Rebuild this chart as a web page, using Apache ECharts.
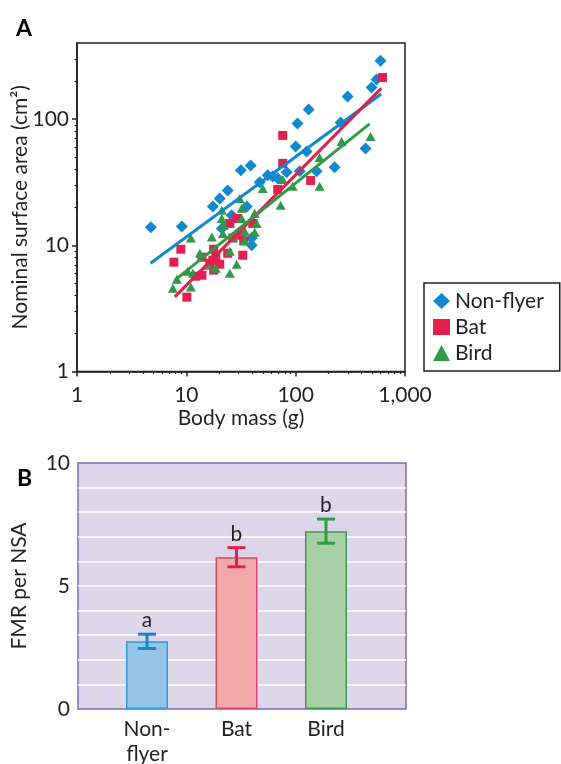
<!DOCTYPE html>
<html>
<head>
<meta charset="utf-8">
<script src="https://cdn.jsdelivr.net/npm/echarts@6/dist/echarts.min.js"></script>
<style>
html, body { margin: 0; padding: 0; background: #fff; }
#chart { width: 561px; height: 764px; }
</style>
</head>
<body>
<div id="chart"></div>
<script>
// Panel A: body mass (g) vs nominal surface area (cm2)
const nonFlyer = [
    [4.74, 13.9], [9.1, 14.1], [17.5, 20.3], [20.2, 23.5], [23.9, 27.2], [31.5, 39.2],
    [38.8, 42.9], [46.9, 31.5], [55.5, 35.8], [61.7, 35.1], [68.5, 33.9], [82.8, 37.8],
    [108.8, 38.5], [155.5, 38.5], [227, 41.4], [100, 60.6], [126, 55.3], [104, 92.1],
    [131.5, 118.9], [257.7, 93.8], [298.5, 150.6], [435.6, 58.5], [494.5, 177.4],
    [549.5, 205.2], [597, 290], [35.7, 20.3], [26, 17.3], [21.1, 13.6], [39.6, 11.4], [39.6, 10]
];
const bat = [
    [7.69, 7.34], [8.91, 9.3], [10.1, 3.88], [12.2, 5.69], [13.9, 8.04], [13.9, 5.79],
    [16.4, 7.2], [17.8, 9.3], [17.8, 6.35], [18.6, 8.04], [20.2, 7.08], [23.9, 8.64],
    [32.8, 8.34], [25, 14.9], [28.9, 16.3], [32.1, 12.0], [26.6, 11.4], [40.5, 14.9],
    [33.5, 10.8], [68.5, 27.7], [76.1, 44.5], [76.1, 74.1], [137, 32.6], [623, 213], [17.5, 7.61]
];
const bird = [
    [7.53, 4.57], [8.19, 5.39], [11.0, 11.4], [11.0, 4.66], [10.3, 6.23], [11.5, 6.01],
    [15.7, 6.95], [18.6, 6.58], [25, 6.01], [28.9, 7.08], [25, 8.97], [17.1, 11.6],
    [21.1, 18.9], [21.1, 16.3], [22, 14.4], [21.6, 12.4], [30.8, 23.5], [32.1, 19.6],
    [32.1, 16.3], [26.6, 11.6], [34.2, 10.9], [42.2, 17.9], [44, 14.9], [42.2, 12.7],
    [50, 28.2], [76.1, 33.2], [72.9, 20.7], [93.9, 29.3], [165.6, 49.6], [165.6, 29.3],
    [263, 66.4], [484, 72.7], [34.2, 12.9], [13.3, 8.64]
];
// regression lines (end points)
const nonFlyerFit = [[4.7, 7.2], [606, 158]];
const batFit = [[7.85, 3.9], [606, 175]];
const birdFit = [[7.85, 5.3], [474, 91.6]];

const massTicks = [1, 10, 100, 1000];
const massMinorTicks = [2, 3, 4, 5, 6, 7, 8, 9, 20, 30, 40, 50, 60, 70, 80, 90, 200, 300, 400, 500, 600, 700, 800, 900];
const areaTicks = [1, 10, 100];
const areaMinorTicks = [2, 3, 4, 5, 6, 7, 8, 9, 20, 30, 40, 50, 60, 70, 80, 90, 200, 300];

// Panel B: FMR per NSA
const groups = ['Non-\nflyer', 'Bat', 'Bird'];
const fmrMean = [2.75, 6.17, 7.23];
const fmrErr = [0.29, 0.39, 0.49];
const sigLetters = ['a', 'b', 'b'];
const fmrTicks = [0, 5, 10];

const FONT = 'Lato';
const INK = '#231f20';
const BLUE = '#1089cd', RED = '#e2204f', GREEN = '#2f9a48';
const barFill = ['#94c4e7', '#f2a8a8', '#a9cfa7'];
const barEdge = ['#2e9bd6', '#e0436a', '#3b9a55'];
const errCol = [BLUE, RED, GREEN];

function fmtThousands(v) {
    return String(Math.round(v)).replace(/\B(?=(\d{3})+(?!\d))/g, ',');
}

var chartDom = document.getElementById('chart');
var myChart = echarts.init(chartDom, null, { renderer: 'canvas' });

var axisText = { fontFamily: FONT, fontSize: 21, color: INK };

var option = {
    animation: false,
    textStyle: { fontFamily: FONT },
    title: [
        { text: 'A', left: 11, top: 12, textStyle: { fontFamily: FONT, fontSize: 23, fontWeight: 'bold', color: '#000' } },
        { text: 'B', left: 12, top: 462, textStyle: { fontFamily: FONT, fontSize: 23, fontWeight: 'bold', color: '#000' } }
    ],
    legend: {
        data: ['Non-flyer', 'Bat', 'Bird'],
        orient: 'vertical',
        left: 424, top: 283,
        padding: [7, 16, 7, 9],
        itemGap: 4,
        itemWidth: 17, itemHeight: 16,
        borderColor: INK, borderWidth: 1.5,
        selectedMode: false,
        textStyle: { fontFamily: FONT, fontSize: 21, lineHeight: 22, color: INK }
    },
    grid: [
        { left: 77, top: 43, width: 328, height: 328.5, outerBoundsMode: 'none', containLabel: false, show: true, borderColor: INK, borderWidth: 1.5, backgroundColor: 'transparent' },
        { left: 78, top: 463, width: 328, height: 246, outerBoundsMode: 'none', containLabel: false, show: true, borderColor: '#7d6bb0', borderWidth: 1.5, backgroundColor: '#ddd6e8' }
    ],
    xAxis: [
        {
            type: 'log', gridIndex: 0, position: 'bottom', min: 1, max: 1000,
            name: 'Body mass (g)', nameLocation: 'middle', nameGap: 36, nameMoveOverlap: false, nameTextStyle: axisText,
            axisLine: { lineStyle: { color: INK, width: 1.5 } },
            axisTick: { customValues: massTicks, length: 5, lineStyle: { color: INK, width: 1.5 } },
            axisLabel: Object.assign({ customValues: massTicks, margin: 13, formatter: fmtThousands }, axisText),
            splitLine: { show: false }
        },
        {
            type: 'log', gridIndex: 0, position: 'bottom', min: 1, max: 1000,
            axisLine: { show: false },
            axisTick: { customValues: massMinorTicks, length: 2.5, lineStyle: { color: INK, width: 1.2 } },
            axisLabel: { show: false },
            splitLine: { show: false }
        },
        {
            type: 'value', gridIndex: 1, position: 'bottom', min: -0.771, max: 2.894,
            axisLine: { show: false },
            axisTick: { show: false },
            axisLabel: Object.assign({ customValues: [0, 1, 2], margin: 8, lineHeight: 25, formatter: function (v) { return groups[Math.round(v)]; } }, axisText),
            splitLine: { show: false }
        }
    ],
    yAxis: [
        {
            type: 'log', gridIndex: 0, position: 'left', min: 1, max: 400,
            name: 'Nominal surface area (cm²)', nameLocation: 'middle', nameGap: 46, nameMoveOverlap: false, nameTextStyle: axisText,
            axisLine: { lineStyle: { color: INK, width: 1.5 } },
            axisTick: { customValues: areaTicks, length: 5, lineStyle: { color: INK, width: 1.5 } },
            axisLabel: Object.assign({ customValues: areaTicks, margin: 8 }, axisText),
            splitLine: { show: false }
        },
        {
            type: 'log', gridIndex: 0, position: 'left', min: 1, max: 400,
            axisLine: { show: false },
            axisTick: { customValues: areaMinorTicks, length: 2.5, lineStyle: { color: INK, width: 1.2 } },
            axisLabel: { show: false },
            splitLine: { show: false }
        },
        {
            type: 'value', gridIndex: 1, position: 'left', min: 0, max: 10, interval: 1,
            name: 'FMR per NSA', nameLocation: 'middle', nameGap: 48, nameMoveOverlap: false, nameTextStyle: axisText,
            axisLine: { show: false },
            axisTick: { show: false },
            axisLabel: Object.assign({ customValues: fmrTicks, margin: 8, padding: [5, 0, 0, 0] }, axisText),
            splitLine: { show: true, showMinLine: false, showMaxLine: false, lineStyle: { color: '#ffffff', width: 1.5 } }
        }
    ],
    series: [
        { name: 'Non-flyer', type: 'scatter', xAxisIndex: 0, yAxisIndex: 0, symbol: 'diamond', symbolSize: 12, itemStyle: { color: BLUE, opacity: 1 }, data: nonFlyer },
        { name: 'Bat', type: 'scatter', xAxisIndex: 0, yAxisIndex: 0, symbol: 'rect', symbolSize: 9, itemStyle: { color: RED, opacity: 1 }, data: bat },
        { name: 'Bird', type: 'scatter', xAxisIndex: 0, yAxisIndex: 0, symbol: 'triangle', symbolSize: [10, 9], itemStyle: { color: GREEN, opacity: 1 }, data: bird },
        { name: 'Non-flyer fit', type: 'line', xAxisIndex: 0, yAxisIndex: 0, showSymbol: false, lineStyle: { color: BLUE, width: 3 }, data: nonFlyerFit },
        { name: 'Bat fit', type: 'line', xAxisIndex: 0, yAxisIndex: 0, showSymbol: false, lineStyle: { color: RED, width: 3 }, data: batFit },
        { name: 'Bird fit', type: 'line', xAxisIndex: 0, yAxisIndex: 0, showSymbol: false, lineStyle: { color: GREEN, width: 3 }, data: birdFit },
        {
            name: 'FMR', type: 'bar', xAxisIndex: 2, yAxisIndex: 2, barWidth: 42,
            data: fmrMean.map(function (v, i) {
                return { value: [i, v], itemStyle: { color: barFill[i], borderColor: barEdge[i], borderWidth: 1.5 } };
            })
        },
        {
            name: 'FMR error', type: 'custom', xAxisIndex: 2, yAxisIndex: 2, z: 5,
            data: fmrMean.map(function (v, i) { return [i, v - fmrErr[i], v + fmrErr[i]]; }),
            renderItem: function (params, api) {
                var i = params.dataIndex;
                var top = api.coord([api.value(0), api.value(2)]);
                var bot = api.coord([api.value(0), api.value(1)]);
                var hw = 9;
                var st = { stroke: errCol[i], lineWidth: 3 };
                return {
                    type: 'group',
                    children: [
                        { type: 'line', shape: { x1: top[0], y1: top[1], x2: bot[0], y2: bot[1] }, style: st },
                        { type: 'line', shape: { x1: top[0] - hw, y1: top[1], x2: top[0] + hw, y2: top[1] }, style: st },
                        { type: 'line', shape: { x1: bot[0] - hw, y1: bot[1], x2: bot[0] + hw, y2: bot[1] }, style: st },
                        { type: 'text', x: top[0], y: top[1] - 3, style: { text: sigLetters[i], fill: INK, font: '21px ' + FONT, textAlign: 'center', textVerticalAlign: 'bottom' } }
                    ]
                };
            }
        }
    ]
};

option && myChart.setOption(option);
</script>
</body>
</html>
